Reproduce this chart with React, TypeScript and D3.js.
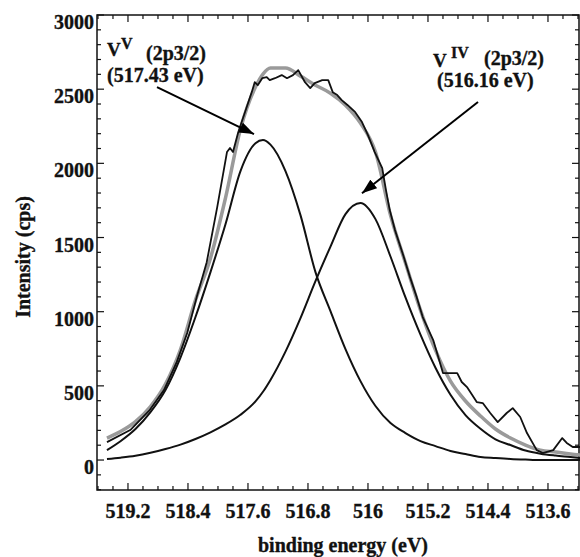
import React from 'react';
import * as d3 from 'd3';

// Fitted-curve energy grid (eV) and read-off intensities (cps)
const componentEnergy = [519.48, 519.3, 519.1, 518.9, 518.7, 518.5, 518.3, 518.1, 517.9, 517.7, 517.5, 517.4, 517.3, 517.1, 516.9, 516.7, 516.5, 516.3, 516.1, 515.9, 515.7, 515.5, 515.3, 515.1, 514.9, 514.7, 514.5, 514.3, 514.1, 513.9, 513.7, 513.5, 513.3, 513.17];
const v5Fit = [67, 127, 209, 323, 472, 691, 964, 1267, 1590, 1948, 2136, 2157, 2126, 1948, 1651, 1267, 1004, 748, 532, 364, 249, 182, 128, 94, 61, 40, 20, 13, 7, 3, 0, 0, 0, 0];
const v4Fit = [7, 16, 29, 49, 74, 104, 142, 187, 240, 305, 395, 460, 540, 731, 957, 1206, 1439, 1658, 1733, 1624, 1372, 1096, 845, 622, 440, 303, 211, 140, 101, 64, 43, 30, 20, 13];
const envelopeFit = [148, 192, 259, 361, 512, 745, 1078, 1361, 1766, 2231, 2514, 2601, 2642, 2642, 2588, 2527, 2473, 2392, 2271, 2076, 1651, 1328, 1011, 741, 532, 398, 297, 209, 148, 101, 67, 54, 40, 34];

// Measured spectrum
const rawEnergy = [519.48, 519.17, 518.91, 518.72, 518.55, 518.41, 518.28, 518.15, 518.01, 517.88, 517.84, 517.8, 517.73, 517.64, 517.55, 517.51, 517.47, 517.41, 517.35, 517.31, 517.24, 517.15, 517.08, 517.0, 516.93, 516.84, 516.77, 516.71, 516.61, 516.53, 516.47, 516.41, 516.35, 516.27, 516.17, 516.08, 516.0, 515.91, 515.81, 515.76, 515.71, 515.64, 515.53, 515.44, 515.35, 515.27, 515.13, 515.0, 514.91, 514.81, 514.75, 514.68, 514.61, 514.55, 514.47, 514.37, 514.27, 514.15, 514.07, 513.97, 513.88, 513.75, 513.67, 513.53, 513.41, 513.35, 513.27, 513.17];
const rawCounts = [121, 202, 337, 472, 660, 856, 1105, 1334, 1705, 2076, 2103, 2076, 2210, 2345, 2480, 2547, 2527, 2574, 2581, 2561, 2574, 2595, 2574, 2595, 2628, 2547, 2507, 2541, 2561, 2561, 2480, 2460, 2426, 2392, 2345, 2278, 2190, 2076, 1968, 1820, 1685, 1550, 1381, 1233, 1098, 964, 809, 586, 586, 586, 526, 492, 438, 391, 384, 317, 256, 317, 350, 290, 182, 67, 47, 67, 148, 115, 88, 88];

const xTickLabels = [519.2, 518.4, 517.6, 516.8, 516, 515.2, 514.4, 513.6];
const yTickLabels = [0, 500, 1000, 1500, 2000, 2500, 3000];

// Annotation anchors in data space: [startE, startI, tipE, tipI]
const arrowV5 = [518.813, 2514, 517.52, 2197];
const arrowV4 = [514.533, 2413, 516.08, 1799];

export default function App() {
  const W = 580, H = 557;
  const left = 97, right = 579, top = 15, bottom = 490;
  const x = d3.scaleLinear().domain([519.613, 513.173]).range([97, 580]);
  const y = d3.scaleLinear().domain([-202, 3000]).range([bottom, top]);

  const smooth = d3.line<[number, number]>().x(d => x(d[0])).y(d => y(d[1])).curve(d3.curveMonotoneX);
  const jag = d3.line<[number, number]>().x(d => x(d[0])).y(d => y(d[1]));

  const zip = (a: number[], b: number[]) => a.map((e, i) => [e, b[i]] as [number, number]);

  const minorX = d3.range(0, 33).map(i => +(519.6 - 0.2 * i).toFixed(1));
  const minorY = d3.range(-200, 3001, 100);
  const isMajorX = (e: number) => xTickLabels.some(t => Math.abs(t - e) < 1e-6);
  const isMajorY = (v: number) => v % 500 === 0;

  const font = '"Liberation Serif", "Times New Roman", serif';
  const stroke = '#111';
  const txt = { fill: '#111', stroke: '#111', strokeWidth: 0.35 } as const;

  return (
    <svg width={W} height={H} style={{ position: 'absolute', left: 0, top: 0, background: '#fff' }} fontFamily={font} fontWeight="bold">
      <defs>
        <marker id="ah" markerUnits="userSpaceOnUse" markerWidth={15} markerHeight={11} viewBox="0 0 15 11" refX={15} refY={5.5} orient="auto">
          <path d="M0,0 L15,5.5 L0,11 Z" fill="#000" />
        </marker>
      </defs>

      {/* frame */}
      <rect x={left} y={top} width={right - left} height={bottom - top} fill="none" stroke={stroke} strokeWidth={1.5} />

      {/* x ticks (bottom & top, inward) */}
      {minorX.map(e => {
        const len = isMajorX(e) ? 7 : 4;
        const xx = x(e);
        return (
          <g key={'xt' + e}>
            <line x1={xx} x2={xx} y1={bottom} y2={bottom - len} stroke={stroke} strokeWidth={1.2} />
            <line x1={xx} x2={xx} y1={top} y2={top + len} stroke={stroke} strokeWidth={1.2} />
          </g>
        );
      })}
      {/* y ticks (left & right, inward) */}
      {minorY.map(v => {
        const len = isMajorY(v) ? 7 : 4;
        const yy = y(v);
        return (
          <g key={'yt' + v}>
            <line x1={left} x2={left + len} y1={yy} y2={yy} stroke={stroke} strokeWidth={1.2} />
            <line x1={right} x2={right - len} y1={yy} y2={yy} stroke={stroke} strokeWidth={1.2} />
          </g>
        );
      })}

      {/* tick labels */}
      {xTickLabels.map(e => (
        <text key={'xl' + e} x={x(e)} y={518} textAnchor="middle" fontSize={20} {...txt}>{String(e)}</text>
      ))}
      {yTickLabels.map(v => (
        <text key={'yl' + v} x={94} y={y(v) + 14} textAnchor="end" fontSize={20} {...txt}>{String(v)}</text>
      ))}

      {/* axis titles */}
      <text x={343} y={552} textAnchor="middle" fontSize={20} {...txt}>binding energy (eV)</text>
      <text transform="translate(30,257) rotate(-90)" textAnchor="middle" fontSize={20} {...txt}>Intensity (cps)</text>

      {/* curves */}
      <path d={smooth(zip(componentEnergy, envelopeFit)) || ''} fill="none" stroke="#9a9a9a" strokeWidth={3.5} />
      <path d={smooth(zip(componentEnergy, v5Fit)) || ''} fill="none" stroke="#111" strokeWidth={2} />
      <path d={smooth(zip(componentEnergy, v4Fit)) || ''} fill="none" stroke="#111" strokeWidth={2} />
      <path d={jag(zip(rawEnergy, rawCounts)) || ''} fill="none" stroke="#111" strokeWidth={1.8} strokeLinejoin="round" />

      {/* annotations */}
      <line x1={x(arrowV5[0])} y1={y(arrowV5[1])} x2={x(arrowV5[2])} y2={y(arrowV5[3])} stroke="#000" strokeWidth={2} markerEnd="url(#ah)" />
      <line x1={x(arrowV4[0])} y1={y(arrowV4[1])} x2={x(arrowV4[2])} y2={y(arrowV4[3])} stroke="#000" strokeWidth={2} markerEnd="url(#ah)" />

      <text x={107} y={56} fontSize={19} {...txt}>V</text>
      <text x={121} y={49} fontSize={16} {...txt}>V</text>
      <text x={146} y={60} fontSize={20} {...txt}>(2p3/2)</text>
      <text x={107} y={82} fontSize={20} {...txt}>(517.43 eV)</text>

      <text x={433} y={67} fontSize={19} {...txt}>V</text>
      <text x={451} y={58} fontSize={16} {...txt}>IV</text>
      <text x={484} y={65} fontSize={20} {...txt}>(2p3/2)</text>
      <text x={437} y={87} fontSize={20} {...txt}>(516.16 eV)</text>
    </svg>
  );
}
